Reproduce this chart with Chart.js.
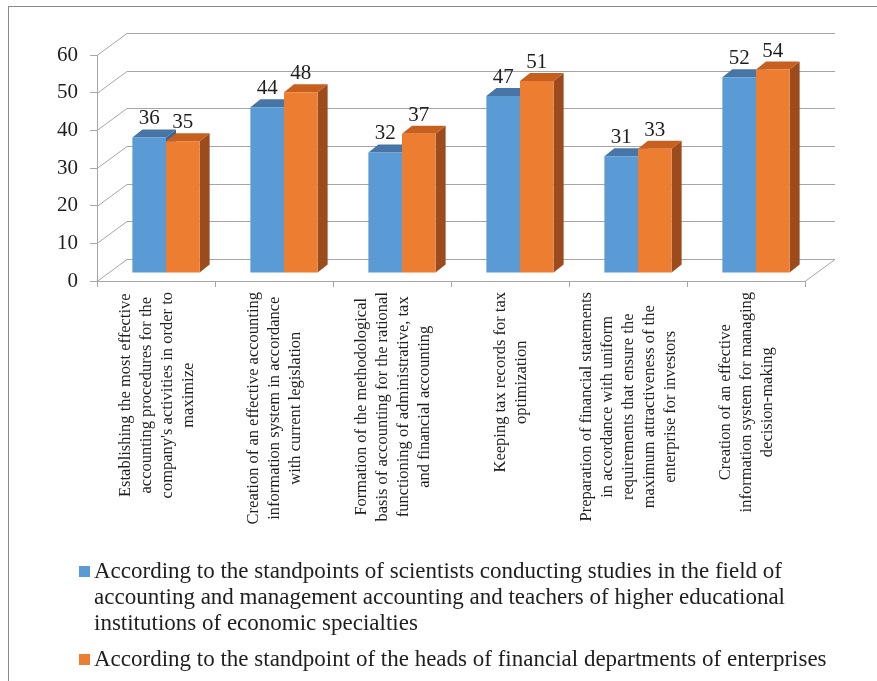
<!DOCTYPE html>
<html>
<head>
<meta charset="utf-8">
<script src="https://cdn.jsdelivr.net/npm/chart.js@4.4.1/dist/chart.umd.min.js"></script>
<style>
  html, body { margin: 0; padding: 0; background: #fff; }
  #wrap { width: 877px; height: 681px; position: relative; }
</style>
</head>
<body>
<div id="wrap"><canvas id="chart"></canvas></div>
<script>
// category labels, one array of lines per category
const categories = [
  ['Establishing the most effective', 'accounting procedures for the', "company's activities in order to", 'maximize'],
  ['Creation of an effective accounting', 'information system in accordance', 'with current legislation'],
  ['Formation of the methodological', 'basis of accounting for the rational', 'functioning of administrative, tax', 'and financial accounting'],
  ['Keeping tax records for tax', 'optimization'],
  ['Preparation of financial statements', 'in accordance with uniform', 'requirements that ensure the', 'maximum attractiveness of the', 'enterprise for investors'],
  ['Creation of an effective', 'information system for managing', 'decision-making']
];
const scientists = [36, 44, 32, 47, 31, 52];
const heads = [35, 48, 37, 51, 33, 54];
const seriesNames = [
  ['According to the standpoints of scientists conducting studies in the field of',
   'accounting and management accounting and teachers of higher educational',
   'institutions of economic specialties'],
  ['According to the standpoint of the heads of financial departments of enterprises']
];
const yMin = 0, yMax = 60, yStep = 10;

const colors = [
  { front: '#5b9bd5', top: '#4675a6', side: '#3c6690' },
  { front: '#ed7d31', top: '#c75f1e', side: '#9b4b1c' }
];
const FONT = '"Liberation Serif", "Times New Roman", serif';
const WALL = { x: 30, y: -22 };   // depth of the back wall
const BAR = { x: 10, y: -8 };     // bar shift and bar depth
const GRID = '#a6a6a6';
const TEXT = '#1e1e1e';

function poly(ctx, pts, fill) {
  ctx.beginPath();
  ctx.moveTo(pts[0][0], pts[0][1]);
  for (let i = 1; i < pts.length; i++) ctx.lineTo(pts[i][0], pts[i][1]);
  ctx.closePath();
  ctx.fillStyle = fill;
  ctx.fill();
}

const threeD = {
  id: 'threeD',
  beforeDraw(chart) {
    const ctx = chart.ctx;
    ctx.save();
    ctx.strokeStyle = '#8a8a8a';
    ctx.lineWidth = 1;
    ctx.strokeRect(8.5, 6.5, 1000, 1000);
    ctx.restore();
  },
  beforeDatasetsDraw(chart) {
    const { ctx, chartArea: a, scales: { y } } = chart;
    ctx.save();
    ctx.strokeStyle = GRID;
    ctx.lineWidth = 1;
    y.ticks.forEach(t => {
      const py = Math.round(y.getPixelForValue(t.value)) + 0.5;
      ctx.beginPath();
      ctx.moveTo(a.left, py);
      ctx.lineTo(a.left + WALL.x, py + WALL.y);
      ctx.lineTo(a.right + WALL.x, py + WALL.y);
      ctx.stroke();
    });
    const p0 = Math.round(y.getPixelForValue(yMin)) + 0.5;
    ctx.beginPath();
    ctx.moveTo(a.right, p0);
    ctx.lineTo(a.right + WALL.x, p0 + WALL.y);
    ctx.stroke();

    // tops and sides of the bars
    chart.data.datasets.forEach((ds, di) => {
      const c = colors[di];
      chart.getDatasetMeta(di).data.forEach(bar => {
        const l = bar.x - bar.width / 2 + BAR.x;
        const r = bar.x + bar.width / 2 + BAR.x;
        const t = bar.y + BAR.y;
        const b = bar.base + BAR.y;
        poly(ctx, [[r, t], [r + BAR.x, t + BAR.y], [r + BAR.x, b + BAR.y], [r, b]], c.side);
        poly(ctx, [[l, t], [r, t], [r + BAR.x, t + BAR.y], [l + BAR.x, t + BAR.y]], c.top);
      });
    });
    ctx.restore();
    ctx.save();
    ctx.translate(BAR.x, BAR.y);
  },
  afterDatasetsDraw(chart) {
    const ctx = chart.ctx;
    ctx.restore();
    ctx.save();
    ctx.font = '21px ' + FONT;
    ctx.fillStyle = TEXT;
    ctx.textAlign = 'center';
    ctx.textBaseline = 'alphabetic';
    chart.data.datasets.forEach((ds, di) => {
      chart.getDatasetMeta(di).data.forEach((bar, i) => {
        ctx.fillText(String(ds.data[i]), bar.x + BAR.x, bar.y + BAR.y - 13);
      });
    });
    ctx.restore();
  },
  afterDraw(chart) {
    const { ctx, scales: { x } } = chart;
    ctx.save();
    // rotated category labels, block top-aligned under the axis, lines centred
    ctx.font = '16.5px ' + FONT;
    ctx.fillStyle = TEXT;
    ctx.textAlign = 'center';
    ctx.textBaseline = 'middle';
    const pitch = 21;
    categories.forEach((lines, i) => {
      const cx = x.getPixelForTick(i) + 1;
      const w = Math.max(...lines.map(s => ctx.measureText(s).width));
      const cy = 292 + w / 2;
      lines.forEach((s, j) => {
        const lx = cx + (j - (lines.length - 1) / 2) * pitch;
        ctx.save();
        ctx.translate(lx, cy);
        ctx.rotate(-Math.PI / 2);
        ctx.fillText(s, 0, 0);
        ctx.restore();
      });
    });

    // legend
    ctx.font = '23px ' + FONT;
    ctx.textAlign = 'left';
    ctx.textBaseline = 'alphabetic';
    const starts = [578, 666];
    seriesNames.forEach((lines, di) => {
      ctx.fillStyle = colors[di].front;
      ctx.fillRect(79, starts[di] - 12, 11, 11);
      ctx.fillStyle = TEXT;
      lines.forEach((s, j) => ctx.fillText(s, 94, starts[di] + j * 26));
    });
    ctx.restore();
  }
};

new Chart(document.getElementById('chart'), {
  type: 'bar',
  data: {
    labels: categories,
    datasets: [
      { label: seriesNames[0].join(' '), data: scientists, backgroundColor: colors[0].front, clip: false },
      { label: seriesNames[1].join(' '), data: heads, backgroundColor: colors[1].front, clip: false }
    ]
  },
  options: {
    responsive: true,
    maintainAspectRatio: false,
    animation: false,
    events: [],
    layout: { padding: { top: 55, right: 72, left: 0, bottom: 0 } },
    datasets: { bar: { categoryPercentage: 0.57, barPercentage: 1 } },
    plugins: { legend: { display: false }, tooltip: { enabled: false } },
    scales: {
      x: {
        afterFit: s => { s.height = 400; },
        ticks: { display: false },
        grid: { drawOnChartArea: false, drawTicks: true, tickLength: 6, color: GRID },
        border: { display: true, color: GRID }
      },
      y: {
        min: yMin,
        max: yMax,
        afterFit: s => { s.width = 97; },
        ticks: { stepSize: yStep, padding: 12, color: TEXT, font: { family: FONT, size: 21 } },
        grid: { drawOnChartArea: false, drawTicks: true, tickLength: 7, color: GRID },
        border: { display: true, color: GRID }
      }
    }
  },
  plugins: [threeD]
});
</script>
</body>
</html>
